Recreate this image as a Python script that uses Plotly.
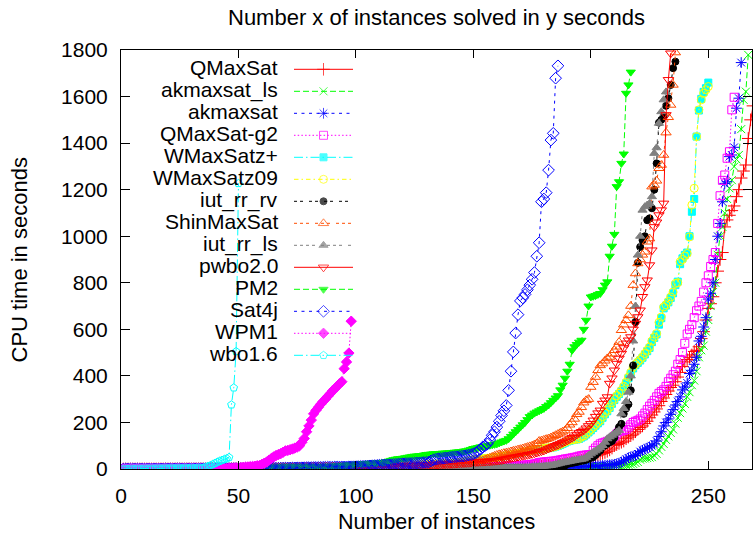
import plotly.graph_objects as go

# ---------------- data (sorted CPU times, one value per solved instance) ----------------
QMaxSat = [
0.1,0.1,0.1,0.1,0.1,0.1,0.1,0.1,0.2,0.2,
0.2,0.2,0.2,0.2,0.2,0.3,0.3,0.3,0.3,0.3,
0.3,0.3,0.4,0.4,0.4,0.4,0.4,0.5,0.5,0.5,
0.5,0.5,0.6,0.6,0.6,0.6,0.7,0.7,0.7,0.7,
0.8,0.8,0.8,0.8,0.9,0.9,0.9,1,1,1,
1,1,1.1,1.1,1.1,1.2,1.2,1.2,1.3,1.3,
1.3,1.4,1.4,1.4,1.5,1.5,1.5,1.6,1.6,1.6,
1.7,1.7,1.7,1.8,1.8,1.8,1.9,1.9,2,2,
2,2,2.1,2.1,2.1,2.2,2.2,2.2,2.3,2.3,
2.3,2.4,2.4,2.4,2.5,2.5,2.5,2.6,2.6,2.7,
2.7,2.7,2.8,2.8,2.9,2.9,2.9,3,3,3,
3.1,3.1,3.2,3.2,3.2,3.3,3.3,3.4,3.4,3.5,
3.5,3.6,3.6,3.7,3.7,3.8,3.8,3.9,3.9,4,
4,4.1,4.1,4.2,4.3,4.3,4.4,4.4,4.5,4.6,
4.6,4.7,4.8,4.8,4.9,5,5,5.1,5.2,5.3,
5.4,5.5,5.6,5.7,5.8,5.9,6,6.1,6.2,6.3,
6.5,6.6,6.8,7,7.2,7.4,7.6,7.8,8,8.2,
8.5,8.8,9.1,9.5,10,10.5,11,12,13,14,
15,15.5,16,17,18,19,20,21,23,25,
27,29,31,33,35,37,40,43,46,50,
53,56,60,63,67,71,76,82,90,100,
105,110,115,120,130,137,143,150,160,170,
178,185,195,205,220,232,245,258,272,290,
305,320,335,350,360,375,395,415,440,460,
470,480,490,505,510,525,560,590,640,690,
710,740,800,850,900,930,1040,1070,1090,1110,
1130,1170,1200,1250,1280,1306,1420,1500,1560]

akmaxsat_ls = [
0.1,0.1,0.1,0.1,0.1,0.1,0.1,0.1,0.1,0.1,
0.1,0.1,0.1,0.1,0.2,0.2,0.2,0.2,0.2,0.2,
0.2,0.2,0.2,0.2,0.2,0.3,0.3,0.3,0.3,0.3,
0.3,0.3,0.3,0.3,0.4,0.4,0.4,0.4,0.4,0.4,
0.4,0.4,0.5,0.5,0.5,0.5,0.5,0.5,0.5,0.6,
0.6,0.6,0.6,0.6,0.6,0.6,0.7,0.7,0.7,0.7,
0.7,0.7,0.7,0.8,0.8,0.8,0.8,0.8,0.8,0.8,
0.9,0.9,0.9,0.9,0.9,0.9,1,1,1,1,
1,1,1,1.1,1.1,1.1,1.1,1.1,1.2,1.2,
1.2,1.2,1.2,1.3,1.3,1.3,1.3,1.4,1.4,1.4,
1.4,1.5,1.5,1.5,1.5,1.6,1.6,1.6,1.7,1.7,
1.7,1.7,1.8,1.8,1.8,1.9,1.9,1.9,2,2,
2,2.1,2.1,2.1,2.2,2.2,2.2,2.3,2.3,2.4,
2.4,2.4,2.5,2.5,2.6,2.6,2.6,2.7,2.7,2.8,
2.8,2.9,2.9,3,3,3.1,3.1,3.2,3.2,3.3,
3.3,3.4,3.4,3.5,3.5,3.6,3.7,3.7,3.8,3.8,
3.9,4,4,4.1,4.2,4.2,4.3,4.4,4.5,4.5,
4.6,4.7,4.8,4.9,5,5,5.1,5.2,5.3,5.4,
5.5,5.6,5.7,5.8,5.9,6,6.1,6.2,6.3,6.5,
6.6,6.7,6.8,7,7.1,7.3,7.4,7.6,7.8,8,
8.2,8.5,8.8,9,9.3,9.6,10,10.5,11,11.5,
12,13,14,15,16,18,20,22,26,30,
40,44,45,47,49,51,58,65,80,95,
108,125,140,155,170,195,220,240,260,280,
310,330,360,380,420,480,510,530,590,640,
700,760,800,920,1000,1040,1100,1160,1206,1241,
1299,1330,1349,1460,1586,1621,1779]

akmaxsat = [
0.1,0.1,0.1,0.1,0.1,0.1,0.1,0.1,0.1,0.1,
0.1,0.2,0.2,0.2,0.2,0.2,0.2,0.2,0.2,0.2,
0.3,0.3,0.3,0.3,0.3,0.3,0.3,0.3,0.4,0.4,
0.4,0.4,0.4,0.4,0.4,0.5,0.5,0.5,0.5,0.5,
0.5,0.6,0.6,0.6,0.6,0.6,0.6,0.7,0.7,0.7,
0.7,0.7,0.8,0.8,0.8,0.8,0.8,0.9,0.9,0.9,
0.9,0.9,1,1,1,1,1,1.1,1.1,1.1,
1.1,1.2,1.2,1.2,1.2,1.3,1.3,1.3,1.3,1.4,
1.4,1.4,1.4,1.5,1.5,1.5,1.6,1.6,1.6,1.6,
1.7,1.7,1.7,1.8,1.8,1.8,1.9,1.9,1.9,2,
2,2,2.1,2.1,2.1,2.2,2.2,2.2,2.3,2.3,
2.3,2.4,2.4,2.5,2.5,2.5,2.6,2.6,2.7,2.7,
2.7,2.8,2.8,2.9,2.9,3,3,3.1,3.1,3.2,
3.2,3.3,3.3,3.4,3.4,3.5,3.5,3.6,3.6,3.7,
3.7,3.8,3.8,3.9,4,4,4.1,4.1,4.2,4.3,
4.3,4.4,4.5,4.5,4.6,4.7,4.7,4.8,4.9,5,
5,5.1,5.2,5.3,5.4,5.4,5.5,5.6,5.7,5.8,
5.9,6,6.1,6.2,6.3,6.4,6.5,6.6,6.8,6.9,
7,7.2,7.3,7.5,7.6,7.8,8,8.2,8.4,8.6,
8.8,9,9.3,9.5,9.8,10,10.5,11,11.5,12,
12.5,13,13.5,14,15,16,17,18,19,20,
22,25,30,35,42,48,52,55,58,65,
75,80,85,90,95,100,108,120,140,160,
185,200,215,235,255,275,290,310,340,352,
370,410,424,450,480,550,570,610,650,730,
755,800,900,1000,1055,1148,1227,1234,1342,1349,
1382,1550,1593,1746]

QMaxSat_g2 = [
0.2,0.2,0.2,0.2,0.2,0.2,0.2,0.2,0.3,0.3,
0.3,0.3,0.3,0.3,0.3,0.3,0.4,0.4,0.4,0.4,
0.4,0.4,0.4,0.5,0.5,0.5,0.5,0.5,0.6,0.6,
0.6,0.6,0.6,0.7,0.7,0.7,0.7,0.8,0.8,0.8,
0.8,0.9,0.9,0.9,0.9,1,1,1,1,1.1,
1.1,1.1,1.1,1.2,1.2,1.2,1.3,1.3,1.3,1.3,
1.4,1.4,1.4,1.5,1.5,1.5,1.5,1.6,1.6,1.6,
1.7,1.7,1.7,1.8,1.8,1.8,1.9,1.9,1.9,2,
2,2,2.1,2.1,2.2,2.2,2.2,2.3,2.3,2.4,
2.4,2.4,2.5,2.5,2.6,2.6,2.7,2.7,2.8,2.8,
2.9,2.9,3,3,3.1,3.1,3.2,3.2,3.3,3.4,
3.4,3.5,3.5,3.6,3.7,3.7,3.8,3.9,3.9,4,
4.1,4.1,4.2,4.3,4.4,4.4,4.5,4.6,4.7,4.8,
4.9,5,5.1,5.2,5.3,5.4,5.5,5.6,5.7,5.8,
5.9,6,6.2,6.3,6.4,6.6,6.7,6.9,7,7.2,
7.4,7.6,7.8,8,8.2,8.5,8.8,9.1,9.4,9.8,
10,10.5,11,11.5,12,12.5,13,13.5,14,15,
16,17,18,19,20,22,24,28,29,30,
31,32,33,34,35,37,39,41,43,44,
46,48,50,52,55,57,59,60,61,62,
80,90,100,108,112,115,119,123,130,140,
150,160,163,166,170,180,190,200,205,209,
215,228,240,255,270,282,295,310,325,333,
340,355,375,390,405,420,450,470,500,540,
580,600,620,650,680,700,720,760,800,830,
870,900,930,1055,1174,1240,1263,1335,1363,1543,
1597]

WMaxSatz_plus = [
0.4,0.5,0.5,0.6,0.6,0.7,0.7,0.8,0.8,0.9,
0.9,1,1,1.1,1.1,1.2,1.2,1.3,1.3,1.4,
1.4,1.5,1.5,1.6,1.6,1.7,1.8,1.8,1.9,1.9,
2,2.1,2.1,2.2,2.2,2.3,2.4,2.4,2.5,2.6,
2.6,2.7,2.8,2.8,2.9,3,3.1,3.1,3.2,3.3,
3.4,3.4,3.5,3.6,3.7,3.8,3.8,3.9,4,4.1,
4.2,4.3,4.4,4.5,4.6,4.7,4.8,4.9,5,5.1,
5.2,5.3,5.4,5.5,5.6,5.7,5.8,5.9,6,6.1,
6.2,6.3,6.4,6.5,6.6,6.7,6.8,6.9,7.1,7.2,
7.3,7.4,7.5,7.6,7.7,7.8,7.9,8,8.1,8.3,
8.5,8.7,8.9,9.1,9.4,9.7,9.9,10.2,10.5,10.9,
11.3,11.7,12.1,12.5,12.9,13.3,13.7,14.1,14.5,14.9,
15.4,15.9,16.4,16.9,17.4,17.9,18.4,18.9,19.4,19.9,
20.4,20.9,21.4,21.9,22.4,22.9,23.4,23.9,24.4,24.9,
25.8,26.8,27.8,28.8,29.8,31.5,33.5,35.5,37.5,39.5,
40.5,41.5,42.5,43.5,44.5,45.5,46.5,47.5,48.5,49.5,
51,53,55,57,59,61,63,65,67,69,
71,73,75,77,79,81,83,85,86,87,
89,90,92,93,96,99,103,108,113,118,
121,124,126,127,129,135,140,148,157,166,
176,186,196,205,220,235,248,262,280,296,
310,322,334,350,368,390,410,432,446,456,
466,478,492,506,520,545,563,578,620,648,
690,702,716,735,755,790,805,880,905,920,
930,1000,1105,1160,1428,1540,1590,1620,1636,1660]

WMaxSatz09 = [
0.5,0.5,0.6,0.6,0.7,0.7,0.8,0.8,0.9,0.9,
1,1,1.1,1.1,1.2,1.2,1.3,1.3,1.4,1.4,
1.5,1.5,1.6,1.7,1.7,1.8,1.8,1.9,2,2,
2.1,2.1,2.2,2.3,2.3,2.4,2.5,2.5,2.6,2.7,
2.7,2.8,2.9,2.9,3,3.1,3.2,3.2,3.3,3.4,
3.5,3.5,3.6,3.7,3.8,3.9,3.9,4,4.1,4.2,
4.3,4.4,4.5,4.6,4.7,4.8,4.9,5,5.1,5.2,
5.3,5.4,5.5,5.6,5.7,5.8,5.9,6,6.1,6.2,
6.3,6.4,6.5,6.6,6.7,6.8,6.9,7,7.2,7.3,
7.4,7.5,7.6,7.7,7.8,7.9,8,8.1,8.2,8.4,
8.6,8.8,9,9.2,9.5,9.8,10,10.3,10.6,11,
11.4,11.8,12.2,12.6,13,13.4,13.8,14.2,14.6,15,
15.5,16,16.5,17,17.5,18,18.5,19,19.5,20,
20.5,21,21.5,22,22.5,23,23.5,24,24.5,25,
26,27,28,29,30,32,34,36,38,40,
41,42,43,44,45,46,47,48,49,50,
52,54,56,58,60,62,64,66,68,70,
72,74,76,78,80,82,84,86,87,88,
90,91,93,94,97,100,105,110,115,120,
123,125,127,128,130,138,142,151,160,170,
180,190,200,209,225,240,252,266,285,300,
315,325,338,355,373,395,415,438,450,460,
470,481,496,510,524,550,567,582,630,653,
696,705,720,739,760,797,800,890,900,915,
926,997,1134,1206,1428,1543,1586,1614,1629,1643]

iut_rr_rv = [
0.1,0.1,0.1,0.1,0.1,0.1,0.1,0.1,0.1,0.1,
0.1,0.1,0.1,0.1,0.1,0.1,0.2,0.2,0.2,0.2,
0.2,0.2,0.2,0.2,0.2,0.2,0.2,0.2,0.3,0.3,
0.3,0.3,0.3,0.3,0.3,0.3,0.3,0.3,0.4,0.4,
0.4,0.4,0.4,0.4,0.4,0.5,0.5,0.5,0.5,0.5,
0.5,0.6,0.6,0.6,0.6,0.6,0.7,0.7,0.7,0.7,
0.7,0.8,0.8,0.8,0.8,0.9,0.9,0.9,0.9,1,
1,1,1,1.1,1.1,1.1,1.1,1.2,1.2,1.2,
1.2,1.3,1.3,1.3,1.4,1.4,1.4,1.4,1.5,1.5,
1.5,1.6,1.6,1.6,1.7,1.7,1.7,1.8,1.8,1.8,
1.9,1.9,1.9,2,2,2,2.1,2.1,2.1,2.2,
2.2,2.2,2.3,2.3,2.3,2.4,2.4,2.4,2.5,2.5,
2.5,2.6,2.6,2.6,2.7,2.7,2.7,2.8,2.8,2.8,
2.9,2.9,2.9,3,3,3,3.1,3.1,3.1,3.2,
3.2,3.2,3.3,3.3,3.3,3.4,3.4,3.4,3.5,3.5,
3.5,3.6,3.6,3.6,3.7,3.7,3.7,3.8,3.8,3.8,
3.9,3.9,3.9,4,4,4,4.1,4.1,4.2,4.2,
4.3,4.4,4.5,4.7,5,5.3,5.7,6,6.5,7,
7.3,7.6,8,8.4,8.8,9.3,10,11,15,22,
24,26,28,30,33,35,37,40,44,48,
51,60,70,80,95,101,108,115,120,135,
158,180,194,237,260,278,338,445,632,886,
954,983,1000,1069,1077,1120,1200,1313,1488,1500,
1517,1560,1593,1650,1722,1750]

ShinMaxSat = [
0.3,0.3,0.4,0.4,0.4,0.5,0.5,0.5,0.6,0.6,
0.6,0.7,0.7,0.8,0.8,0.8,0.9,0.9,1,1,
1,1.1,1.1,1.2,1.2,1.3,1.3,1.4,1.4,1.5,
1.5,1.6,1.6,1.7,1.7,1.8,1.8,1.9,1.9,2,
2,2.1,2.1,2.2,2.3,2.3,2.4,2.4,2.5,2.6,
2.6,2.7,2.8,2.8,2.9,3,3,3.1,3.2,3.2,
3.3,3.4,3.5,3.5,3.6,3.7,3.8,3.8,3.9,4,
4.1,4.2,4.2,4.3,4.4,4.5,4.6,4.7,4.8,4.8,
4.9,5,5.1,5.2,5.3,5.4,5.5,5.6,5.7,5.8,
5.9,6,6.1,6.2,6.3,6.4,6.5,6.6,6.7,6.8,
7,7.2,7.4,7.6,7.8,8,8.2,8.4,8.6,8.8,
9,9.3,9.6,9.9,10.2,10.5,10.8,11.1,11.4,11.7,
12,12.3,12.6,12.9,13.2,13.5,13.8,14.1,14.4,14.7,
15,15.4,15.8,16.2,16.6,17,17.4,17.8,18.2,18.6,
19,19.5,20,20.5,21,21.5,22,24,26,28,
30,32,34,37,40,44,48,52,56,60,
63,65,68,70,72,75,78,80,83,85,
88,91,94,97,100,105,110,120,122,125,
128,131,135,140,145,150,155,160,165,175,
190,200,215,235,245,265,285,295,300,352,
373,395,424,445,453,465,475,481,495,510,
525,545,596,620,639,660,700,790,840,883,
900,920,933,976,990,1213,1220,1238,1292,1306,
1349,1445,1511,1564,1650,1789]

iut_rr_ls = [
0.2,0.2,0.2,0.2,0.3,0.3,0.3,0.3,0.3,0.4,
0.4,0.4,0.4,0.5,0.5,0.5,0.5,0.6,0.6,0.6,
0.6,0.7,0.7,0.7,0.7,0.8,0.8,0.8,0.9,0.9,
0.9,0.9,1,1,1,1.1,1.1,1.1,1.2,1.2,
1.2,1.3,1.3,1.3,1.4,1.4,1.4,1.5,1.5,1.5,
1.6,1.6,1.6,1.7,1.7,1.7,1.8,1.8,1.8,1.9,
1.9,2,2,2,2.1,2.1,2.2,2.2,2.2,2.3,
2.3,2.4,2.4,2.4,2.5,2.5,2.6,2.6,2.6,2.7,
2.7,2.8,2.8,2.9,2.9,2.9,3,3,3.1,3.1,
3.2,3.2,3.2,3.3,3.3,3.4,3.4,3.5,3.5,3.5,
3.6,3.6,3.7,3.7,3.8,3.8,3.8,3.9,3.9,4,
4,4.1,4.1,4.1,4.2,4.2,4.3,4.3,4.4,4.4,
4.4,4.5,4.5,4.6,4.6,4.6,4.7,4.7,4.8,4.8,
4.8,4.9,4.9,5,5,5,5.1,5.1,5.2,5.2,
5.2,5.3,5.3,5.3,5.4,5.4,5.4,5.5,5.5,5.5,
5.6,5.6,5.6,5.7,5.7,5.7,5.8,5.8,5.8,5.9,
5.9,5.9,6,6,6,6.1,6.1,6.1,6.2,6.3,
6.5,7,7.5,8,9,9.5,10,10.5,11,12,
13,14,15,17,20,22,25,27,29,31,
33,35,37,39,40,42,44,50,58,65,
72,78,85,92,101,115,130,138,145,151,
158,166,237,260,290,330,400,550,700,919,
1000,1112,1127,1134,1141,1170,1356,1380,1485,1535,
1586,1620]

pwbo2_0 = [
0.5,0.5,0.6,0.6,0.7,0.7,0.8,0.8,0.9,0.9,
1,1,1.1,1.1,1.2,1.2,1.3,1.3,1.4,1.4,
1.5,1.5,1.6,1.6,1.7,1.7,1.8,1.8,1.9,1.9,
2,2,2.1,2.1,2.2,2.2,2.3,2.3,2.4,2.4,
2.5,2.5,2.6,2.6,2.7,2.7,2.8,2.8,2.9,2.9,
3,3.1,3.1,3.2,3.2,3.3,3.4,3.4,3.5,3.5,
3.6,3.7,3.7,3.8,3.9,3.9,4,4.1,4.1,4.2,
4.3,4.3,4.4,4.5,4.5,4.6,4.7,4.7,4.8,4.9,
5,5,5.1,5.2,5.3,5.3,5.4,5.5,5.6,5.7,
5.7,5.8,5.9,6,6.1,6.2,6.3,6.4,6.5,6.6,
6.8,7,7.2,7.4,7.6,7.8,8,8.3,8.6,8.9,
9.2,9.5,9.8,10.1,10.4,10.7,11,11.4,11.8,12.2,
12.6,13,13.4,13.8,14.2,14.6,15,15.5,16,16.5,
17,17.5,18,18.5,19,19.5,20,20.5,21,21.5,
22,22.7,23.4,24.1,24.8,25.5,26.2,27,28,29,
30,30.5,31,31.5,32,32.5,33,34,35,36,
37,39,41,43,45,47,49,51,53,55,
57,59,61,63,65,68,71,74,77,80,
84,88,92,96,100,104,108,113,118,123,
129,134,140,148,155,160,166,175,185,194,
209,225,240,252,281,295,309,367,390,424,
453,475,496,520,540,553,567,600,625,653,
682,740,782,811,876,940,1040,1060,1091,1112,
1141,1521,1672,1786]

PM2 = [
0.5,0.6,0.7,0.8,0.9,1,1.1,1.2,1.3,1.4,
1.5,1.6,1.7,1.8,1.9,2,2.1,2.2,2.3,2.4,
2.5,2.6,2.7,2.8,2.9,3,3.1,3.2,3.3,3.4,
3.5,3.6,3.7,3.8,3.9,4,4.1,4.2,4.3,4.4,
4.5,4.6,4.7,4.8,4.9,5,5.1,5.2,5.3,5.4,
5.5,5.6,5.7,5.8,5.9,6,6.1,6.2,6.3,6.4,
6.5,6.7,6.9,7.1,7.3,7.5,7.7,7.9,8.1,8.3,
8.5,8.7,8.9,9.1,9.3,9.5,9.7,9.9,10.1,10.3,
10.4,10.5,10.6,10.7,10.8,10.9,11,11.2,11.4,11.6,
12,13,14,15,16,17,18,19,20,21,
22,22.5,23,23.5,24,24.5,25,25.5,26,27,
28,29,31,34,37,40,42,44,45,46,
48,50,52,54,55,56,57,58,60,62,
63,64,65,65.5,66,67,68,68.5,69,70,
71,72,73,74,75,77,78,81,84,88,
90,92,95,96,98,100,102,104,106,108,
112,116,120,123,130,140,150,160,170,180,
190,200,212,225,232,240,245,250,255,260,
268,275,285,295,305,315,340,360,390,420,
450,510,525,535,545,553,600,639,700,739,
742,745,750,754,770,790,804,914,957,1008,
1213,1234,1313,1353,1614,1650,1705]

Sat4j = [
0.1,0.1,0.1,0.2,0.2,0.2,0.3,0.3,0.3,0.4,
0.4,0.4,0.5,0.5,0.5,0.6,0.6,0.6,0.7,0.7,
0.7,0.8,0.8,0.8,0.9,0.9,0.9,1,1,1,
1.1,1.1,1.1,1.2,1.2,1.2,1.3,1.3,1.3,1.4,
1.4,1.4,1.5,1.5,1.5,1.6,1.6,1.6,1.7,1.7,
1.7,1.8,1.8,1.8,1.9,1.9,1.9,2,2,2,
2.2,2.4,2.6,2.8,3,3.2,3.4,3.6,3.8,4,
4.2,4.4,4.6,4.8,5,5.2,5.4,5.6,5.8,6,
6.2,6.4,6.6,6.8,7,7.2,7.4,7.6,7.8,8,
8.2,8.4,8.6,8.8,9,9.2,9.4,9.6,9.8,10,
10.6,11.2,11.8,12.4,13,13.6,14.2,14.8,15.4,16,
16.6,17.2,17.8,18.4,19,19.6,20.2,20.8,22,22.5,
23,23.5,24,24.5,25,25.5,26,27,28,29,
30,35,40,42,44,45,46,47,48,50,
51,52,53,54,55,56,58,60,62,65,
70,75,85,95,100,108,125,145,160,180,
205,230,250,273,338,420,503,584,663,722,
735,750,770,790,815,844,914,972,1148,1160,
1187,1284,1413,1442,1679,1732]

WPM1 = [
0.1,0.1,0.1,0.2,0.2,0.2,0.3,0.3,0.3,0.4,
0.4,0.4,0.5,0.5,0.5,0.6,0.6,0.6,0.7,0.7,
0.7,0.8,0.8,0.9,0.9,1,1,1.1,1.1,1.2,
1.2,1.3,1.3,1.4,1.5,1.5,1.6,1.7,1.8,1.9,
2,2.2,2.4,2.6,2.8,3,3.5,4,4.5,5,
6,7,8,9,10,11,12,14,15,20,
25,30,38,45,52,58,62,66,72,78,
80,83,86,90,94,100,115,131,160,185,
210,237,252,265,278,290,300,312,323,335,
345,355,366,375,431,460,498,635]

wbo1_6 = [
0.5,0.6,0.7,0.8,0.9,1,1.1,1.2,1.3,1.4,
1.5,1.6,1.7,1.8,1.9,2,2.1,2.2,2.3,2.4,
2.5,2.6,2.7,2.8,2.9,3,3.1,3.2,3.3,3.4,
3.5,3.7,3.9,4.2,5,8,12,15,20,25,
30,34,38,42,45,50,276,349,505,1227]

solver_names = ["QMaxSat", "akmaxsat_ls", "akmaxsat", "QMaxSat-g2", "WMaxSatz+",
                "WMaxSatz09", "iut_rr_rv", "ShinMaxSat", "iut_rr_ls", "pwbo2.0",
                "PM2", "Sat4j", "WPM1", "wbo1.6"]
solver_times = [QMaxSat, akmaxsat_ls, akmaxsat, QMaxSat_g2, WMaxSatz_plus,
                WMaxSatz09, iut_rr_rv, ShinMaxSat, iut_rr_ls, pwbo2_0,
                PM2, Sat4j, WPM1, wbo1_6]

x_ticks = [0, 50, 100, 150, 200, 250]
y_ticks = [0, 200, 400, 600, 800, 1000, 1200, 1400, 1600, 1800]

# ---------------- styles (gnuplot postscript-like) ----------------
styles = [
    ("#ff0000", "solid", "cross-thin-open", 9),
    ("#00ff00", "6px,3px", "x-thin-open", 8),
    ("#0000ff", "3px,4.5px", "asterisk-open", 9),
    ("#ff00ff", "1.5px,2.2px", "square-open", 8),
    ("#00ffff", "9px,3px,1.5px,3px", "square", 7),
    ("#ffff00", "4.5px,3px,1.5px,3px", "circle-open", 8),
    ("#000000", "3px,3px,3px,6px", "circle", 7),
    ("#ff4d00", "3px,3px,3px,3px,3px,6px", "triangle-up-open", 9),
    ("#808080", "3px,3px,3px,3px,3px,3px,3px,6px", "triangle-up", 8),
    ("#ff0000", "solid", "triangle-down-open", 9),
    ("#00ff00", "6px,3px", "triangle-down", 8),
    ("#0000ff", "3px,4.5px", "diamond-open", 9),
    ("#ff00ff", "1.5px,2.2px", "diamond", 8),
    ("#00ffff", "9px,3px,1.5px,3px", "pentagon-open", 8),
]

FONT = "Liberation Sans, Arial, Helvetica, sans-serif"
W, H = 753, 533
L, R, T, B = 121, 1, 50, 64
X_MAX = 268.6

fig = go.Figure()
for name, ys, (col, dash, sym, sz) in zip(solver_names, solver_times, styles):
    fig.add_trace(go.Scatter(
        x=list(range(1, len(ys) + 1)), y=ys, mode="lines+markers", name=name,
        line=dict(color=col, width=1, dash=dash),
        marker=dict(symbol=sym, size=sz, color=col, line=dict(color=col, width=1)),
        showlegend=False))

# ---------------- hand-made gnuplot-style key (right aligned text, sample on right) ----------------
pw = W - L - R
ph = H - T - B
row0, row_step = 69.3, 22.0
txt_right = (280 - L) / pw
s0, s1 = (294 - L) / pw, (353 - L) / pw
for i, (name, (col, dash, sym, sz)) in enumerate(zip(solver_names, styles)):
    yp = (H - B - (row0 + i * row_step)) / ph
    fig.add_trace(go.Scatter(
        x=[s0, (s0 + s1) / 2, s1], y=[yp, yp, yp], xaxis="x2", yaxis="y2",
        mode="lines+markers", showlegend=False, hoverinfo="skip",
        line=dict(color=col, width=1, dash=dash),
        marker=dict(symbol=sym, size=[0, sz, 0], color=col, line=dict(color=col, width=1))))
    fig.add_annotation(x=txt_right, y=yp + 0.004, xref="paper", yref="paper", text=name,
                       showarrow=False, xanchor="right", yanchor="middle",
                       font=dict(family=FONT, size=21, color="black"))

fig.add_annotation(x=0.5, y=(H - B - 522) / ph, xref="paper", yref="paper",
                   text="Number of instances", showarrow=False, yanchor="middle",
                   font=dict(family=FONT, size=21.5, color="black"))
fig.add_annotation(x=(19 - L) / pw, y=0.5, xref="paper", yref="paper",
                   text="CPU time in seconds", showarrow=False, textangle=-90,
                   xanchor="center", yanchor="middle",
                   font=dict(family=FONT, size=22, color="black"))

fig.update_layout(
    width=W, height=H, margin=dict(l=L, r=R, t=T, b=B),
    paper_bgcolor="white", plot_bgcolor="white",
    font=dict(family=FONT, size=21, color="black"),
    title=dict(text="Number x of instances solved in y seconds", x=0.5, xref="paper",
               y=1 - 17 / H, yref="container", yanchor="middle", xanchor="center",
               font=dict(family=FONT, size=22, color="black")),
    xaxis=dict(range=[0, X_MAX], tickvals=x_ticks, ticks="inside", ticklen=8,
               tickcolor="black", showline=True, linecolor="black", linewidth=1,
               mirror="ticks", showgrid=False, zeroline=False, ticklabelstandoff=8,
               tickfont=dict(family=FONT, size=21)),
    yaxis=dict(range=[0, 1800], tickvals=y_ticks, ticks="inside", ticklen=9,
               tickcolor="black", showline=True, linecolor="black", linewidth=1,
               mirror="ticks", showgrid=False, zeroline=False, ticklabelstandoff=8,
               tickfont=dict(family=FONT, size=21)),
    xaxis2=dict(overlaying="x", range=[0, 1], visible=False, anchor="y2"),
    yaxis2=dict(overlaying="y", range=[0, 1], visible=False, anchor="x2"),
)

fig.write_html("out.html", config={"displayModeBar": False},
               post_script="document.body.style.margin='0px';"
                           "document.body.style.overflow='hidden';")
